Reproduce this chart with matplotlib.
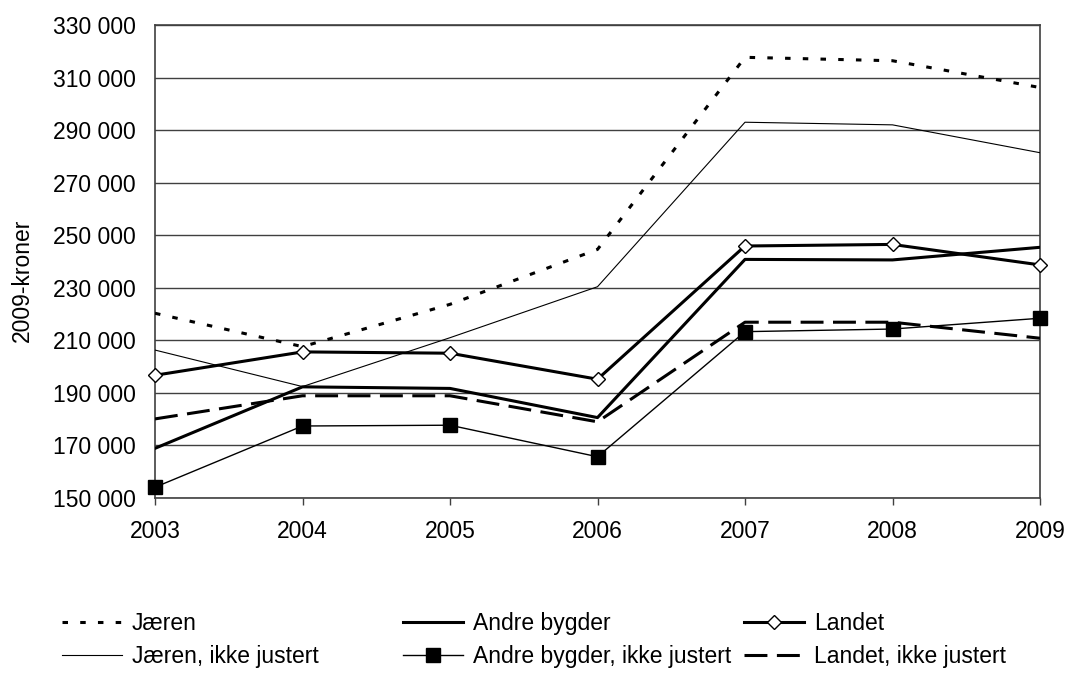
import matplotlib
matplotlib.use('Agg')
import matplotlib.pyplot as plt
from matplotlib.ticker import FuncFormatter

plt.rcParams['font.family'] = ['Liberation Sans', 'DejaVu Sans']
plt.rcParams['font.size'] = 16.5

years = [2003, 2004, 2005, 2006, 2007, 2008, 2009]

jaeren = [220300, 207600, 223700, 244600, 317700, 316400, 306200]
andre = [168900, 192300, 191700, 180600, 240800, 240600, 245400]
landet = [196700, 205600, 205100, 195200, 245900, 246500, 238700]
jaeren_ikke = [206300, 192400, 211000, 230400, 293000, 292000, 281400]
andre_ikke = [154100, 177400, 177700, 165700, 213300, 214300, 218400]
landet_ikke = [180100, 188900, 188900, 179000, 216900, 216900, 210800]

fig = plt.figure(figsize=(10.67, 6.73), dpi=100)
ax = fig.add_axes([155 / 1067, 175 / 673, 885 / 1067, 473 / 673])

grid_c = '#404040'
ax.set_yticks(range(150000, 330001, 20000))
for y in range(150000, 330001, 20000):
    ax.axhline(y, color=grid_c, lw=1.0, zorder=1)

l1, = ax.plot(years, jaeren, color='black', lw=2.2, dashes=(1.8, 4.0),
              label='Jæren', zorder=3)
l2, = ax.plot(years, andre, color='black', lw=2.2, label='Andre bygder', zorder=3)
l3, = ax.plot(years, landet, color='black', lw=2.2, marker='D', ms=7,
              mfc='white', mec='black', mew=1.0, label='Landet', zorder=4,
              clip_on=False)
l4, = ax.plot(years, jaeren_ikke, color='black', lw=0.8,
              label='Jæren, ikke justert', zorder=3)
l5, = ax.plot(years, andre_ikke, color='black', lw=1.0, marker='s', ms=10,
              mfc='black', mec='black', label='Andre bygder, ikke justert',
              zorder=4, clip_on=False)
l6, = ax.plot(years, landet_ikke, color='black', lw=2.2, dashes=(7.5, 3.1),
              label='Landet, ikke justert', zorder=3)

ax.set_xlim(2003, 2009)
ax.set_ylim(150000, 330000)
ax.set_xticks(years)
ax.yaxis.set_major_formatter(FuncFormatter(lambda v, p: '{:,.0f}'.format(v).replace(',', ' ')))
ax.tick_params(axis='y', length=0, pad=14)
ax.tick_params(axis='x', length=5, width=1, color=grid_c, direction='out', pad=11)
for s in ax.spines.values():
    s.set_color(grid_c)
    s.set_linewidth(1.2)

fig.text(22 / 1067, 1 - 280 / 673, '2009-kroner', rotation=90, ha='center', va='center')

# three legend columns with fixed starts, like the Excel layout
cols = [(62, [l1, l4]), (403, [l2, l5]), (744, [l3, l6])]
for x0, hs in cols:
    leg = fig.legend(handles=hs, labels=[h.get_label() for h in hs],
                     loc='upper left', bbox_to_anchor=(x0 / 1067, 1 - 612 / 673),
                     frameon=False, borderpad=0, borderaxespad=0,
                     handlelength=2.6, handletextpad=0.45, labelspacing=0.42)

plt.savefig('out.png', dpi=100)
